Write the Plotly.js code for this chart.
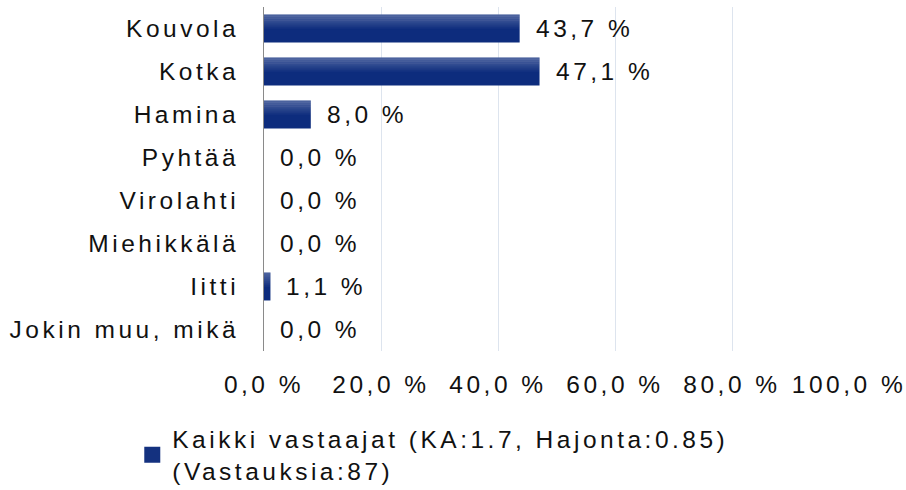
<!DOCTYPE html>
<html>
<head>
<meta charset="utf-8">
<script src="https://cdn.plot.ly/plotly-3.0.1.min.js"></script>
<style>
html, body { margin: 0; padding: 0; background: #fff; }
svg text { letter-spacing: 3.5px; }
</style>
</head>
<body>
<div id="chart" style="width:906px;height:490px;"></div>
<script>
var categories = ["Kouvola", "Kotka", "Hamina", "Pyhtää", "Virolahti", "Miehikkälä", "Iitti", "Jokin muu, mikä"];
var values = [43.7, 47.1, 8.0, 0.0, 0.0, 0.0, 1.1, 0.0];
var tickValues = [0, 20, 40, 60, 80, 100];
var tickLabels = ["0,0 %", "20,0 %", "40,0 %", "60,0 %", "80,0 %", "100,0 %"];
var seriesName = "Kaikki vastaajat (KA:1.7, Hajonta:0.85)<br>(Vastauksia:87)";

function fmt(v) { return v.toFixed(1).replace('.', ',') + ' %'; }

var barColor = '#0d2c7d';
var fontFamily = '"Liberation Sans", Arial, sans-serif';
var fs = 24.5;
var barWidth = 0.65;

var traces = [
  {
    type: 'bar',
    orientation: 'h',
    x: values,
    y: categories,
    width: barWidth,
    offset: -barWidth / 2,
    marker: { color: barColor, line: { width: 0 } },
    showlegend: false,
    hoverinfo: 'skip'
  }
];

// top highlight bands (visual gradient of the same bars)
var nBands = 7;
var bandSpan = 0.33;
for (var k = 0; k < nBands; k++) {
  var a = 0.26 * (1 - k / nBands);
  traces.push({
    type: 'bar',
    orientation: 'h',
    x: values,
    y: categories,
    width: bandSpan / nBands + 0.002,
    offset: -barWidth / 2 + k * bandSpan / nBands,
    marker: { color: 'rgba(255,255,255,' + a.toFixed(3) + ')', line: { width: 0 } },
    showlegend: false,
    hoverinfo: 'skip'
  });
}

traces.push({
  type: 'scatter',
  mode: 'markers',
  x: [null],
  y: [null],
  name: seriesName,
  marker: { symbol: 'square', size: 16, color: '#14317f' },
  showlegend: true,
  hoverinfo: 'skip'
});

var annotations = values.map(function (v, i) {
  return {
    x: v, y: categories[i], xref: 'x', yref: 'y',
    text: fmt(v), showarrow: false,
    xanchor: 'left', yanchor: 'middle', xshift: 14,
    font: { family: fontFamily, size: fs, color: '#111' }
  };
});

var layout = {
  width: 906,
  height: 490,
  margin: { l: 264, r: 57, t: 7, b: 139, autoexpand: false },
  paper_bgcolor: '#fff',
  plot_bgcolor: '#fff',
  barmode: 'overlay',
  font: { family: fontFamily, size: fs, color: '#111' },
  xaxis: {
    range: [0, 100],
    tickvals: tickValues,
    ticktext: tickLabels,
    tickangle: 0,
    automargin: false,
    ticklabeloverflow: 'allow',
    showgrid: true,
    gridcolor: '#dde4ee',
    gridwidth: 1,
    zeroline: false,
    showline: false,
    ticks: '',
    ticklabelstandoff: 16,
    tickfont: { family: fontFamily, size: fs, color: '#111' },
    fixedrange: true
  },
  yaxis: {
    type: 'category',
    autorange: 'reversed',
    automargin: false,
    showgrid: false,
    zeroline: false,
    showline: true,
    linecolor: '#8a8a8a',
    linewidth: 1,
    ticks: '',
    ticklabelstandoff: 19,
    tickfont: { family: fontFamily, size: fs, color: '#111' },
    fixedrange: true
  },
  showlegend: true,
  legend: {
    xref: 'container', yref: 'container',
    x: 0.146, y: 0.15,
    xanchor: 'left', yanchor: 'top',
    font: { family: fontFamily, size: fs, color: '#111' },
    bgcolor: 'rgba(0,0,0,0)',
    borderwidth: 0
  },
  annotations: annotations
};

Plotly.newPlot('chart', traces, layout, { displayModeBar: false, staticPlot: true });
</script>
</body>
</html>
